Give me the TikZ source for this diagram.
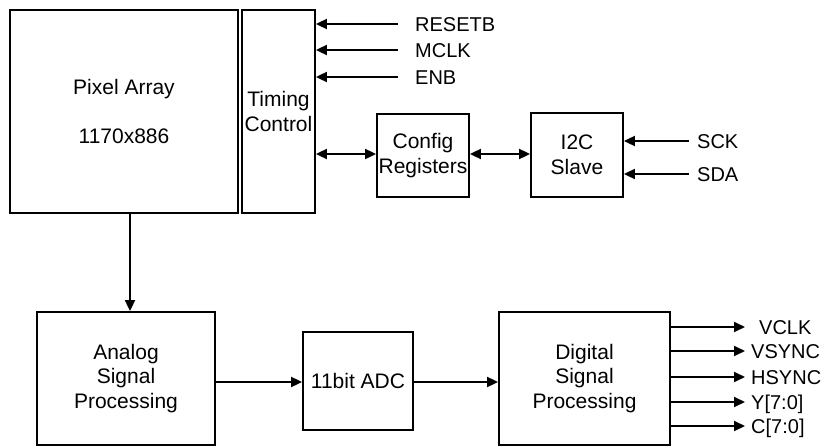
\documentclass[tikz,border=0pt]{standalone}
\usepackage{fontspec}
\setmainfont{Liberation Sans}
\usepackage{tikz}
\usetikzlibrary{arrows.meta,positioning,calc}
\newcommand{\blkfont}{\fontsize{21}{24.5}\selectfont}
\newcommand{\pinfont}{\fontsize{20}{24}\selectfont}
\tikzset{
  blk/.style={draw, line width=1.8pt, align=center, inner sep=0pt, font=\blkfont},
  sig/.style={line width=1.8pt, ->},
  bus/.style={line width=1.8pt, <->},
  pin/.style={inner sep=0pt, anchor=west, font=\pinfont, text height=14.5pt, text depth=0pt},
}

\begin{document}
\begin{tikzpicture}[x=1pt, y=-1pt, >={Triangle[length=11pt,width=10pt]}]
    \useasboundingbox (0,0) rectangle (825,447);
    \node[blk, minimum width=228pt, minimum height=203pt] (pix) at (124,111.5)
      {Pixel Array\\[\baselineskip]1170x886};
    \node[blk, minimum width=73pt, minimum height=203pt] (tc) at (278.5,111.5)
      {Timing\\Control};
    \node[blk, minimum width=92pt, minimum height=83pt] (cfg) at (423,155.5)
      {Config\\Registers};
    \node[blk, minimum width=92pt, minimum height=84pt] (i2c) at (577,155)
      {I2C\\Slave};
    \node[blk, minimum width=178pt, minimum height=133pt] (asp) at (126,378.5)
      {Analog\\Signal\\Processing};
    \node[blk, minimum width=110pt, minimum height=98pt] (adc) at (358,381)
      {11bit ADC};
    \node[blk, minimum width=171pt, minimum height=133pt] (dsp) at (584.5,378.5)
      {Digital\\Signal\\Processing};

    \node[pin] (rst) at (415,24) {RESETB};
    \node[pin] (mclk) at (415,50) {MCLK};
    \node[pin] (enb) at (415,77) {ENB};
    \node[pin] (sck) at (697,141) {SCK};
    \node[pin] (sda) at (697,174) {SDA};
    \node[pin] (vclk) at (759,327) {VCLK};
    \node[pin] (vsync) at (751,351) {VSYNC};
    \node[pin] (hsync) at (751,377) {HSYNC};
    \node[pin] (ydat) at (751,402) {Y[7:0]};
    \node[pin] (cdat) at (751,426) {C[7:0]};

    \draw[sig, shorten <=17pt] (rst.west) -- (tc.east |- rst.west);
    \draw[sig, shorten <=17pt] (mclk.west) -- (tc.east |- mclk.west);
    \draw[sig, shorten <=17pt] (enb.west) -- (tc.east |- enb.west);
    \draw[bus] (tc.east |- 0,154) -- (cfg.west |- 0,154);
    \draw[bus] (cfg.east |- 0,154) -- (i2c.west |- 0,154);
    \draw[sig, shorten <=8pt] (sck.west) -- (i2c.east |- sck.west);
    \draw[sig, shorten <=8pt] (sda.west) -- (i2c.east |- sda.west);
    \draw[sig] (pix.south -| 130,0) -- (asp.north -| 130,0);
    \draw[sig] (asp.east |- 0,382) -- (adc.west |- 0,382);
    \draw[sig] (adc.east |- 0,382) -- (dsp.west |- 0,382);
    \draw[sig, shorten >=14pt] (dsp.east |- vclk.west) -- (vclk.west);
    \draw[sig, shorten >=6pt] (dsp.east |- vsync.west) -- (vsync.west);
    \draw[sig, shorten >=6pt] (dsp.east |- hsync.west) -- (hsync.west);
    \draw[sig, shorten >=6pt] (dsp.east |- ydat.west) -- (ydat.west);
    \draw[sig, shorten >=6pt] (dsp.east |- cdat.west) -- (cdat.west);
\end{tikzpicture}
\end{document}
